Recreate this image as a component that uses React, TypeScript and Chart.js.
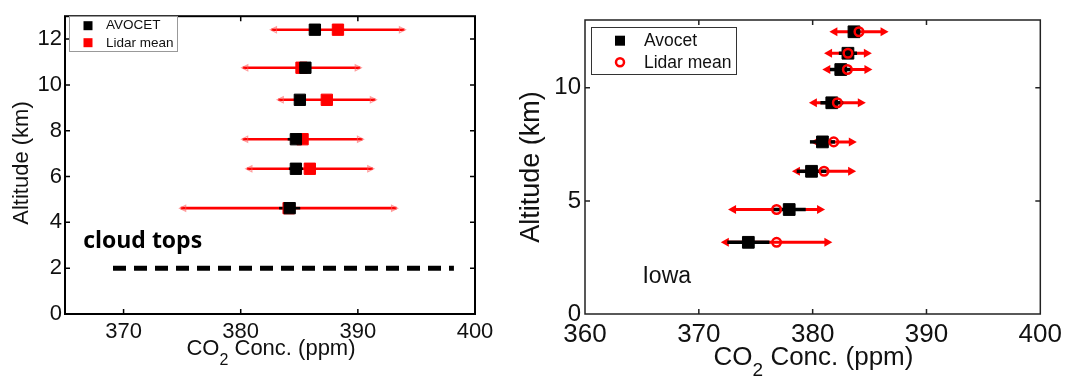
import React, { useEffect, useRef } from 'react';
import { Chart, registerables } from 'chart.js';

Chart.register(...registerables);

// ---------- Left panel data ----------
const LEFT_ALT = [12.41, 10.75, 9.35, 7.63, 6.34, 4.62];
const LEFT_AVOCET = [386.33, 385.52, 385.05, 384.71, 384.71, 384.18];
const LEFT_AVOCET_ERR = [0.4, 0.4, 0.5, 0.7, 0.6, 0.9];
const LEFT_LIDAR = [388.3, 385.19, 387.35, 385.28, 385.9, 384.09];
const LEFT_LIDAR_ERR = [5.76, 5.1, 4.23, 5.2, 5.46, 9.3];
const LEFT_X_TICKS = [370, 380, 390, 400];
const LEFT_Y_TICKS = [0, 2, 4, 6, 8, 10, 12];
const CLOUD_TOP_X = [369.1, 398.2];
const CLOUD_TOP_ALT = [2, 2];

// ---------- Right panel data ----------
const RIGHT_ALT = [12.48, 11.53, 10.81, 9.34, 7.61, 6.31, 4.62, 3.17];
const RIGHT_AVOCET = [383.63, 383.1, 382.47, 381.68, 380.86, 379.9, 377.94, 374.35];
const RIGHT_AVOCET_ERR = [0.5, 0.8, 0.95, 1.0, 1.1, 1.3, 1.45, 1.85];
const RIGHT_LIDAR = [384.07, 383.1, 383.05, 382.17, 381.85, 381.0, 376.83, 376.83];
const RIGHT_LIDAR_ERR = [2.6, 2.1, 2.2, 2.5, 2.03, 2.82, 4.26, 4.9];
const RIGHT_X_TICKS = [360, 370, 380, 390, 400];
const RIGHT_Y_TICKS = [0, 5, 10];

const SANS = '"Liberation Sans", Arial, Helvetica, sans-serif';

type PanelCfg = {
  name: string;
  alt: number[];
  avocet: number[];
  avocetErr: number[];
  lidar: number[];
  lidarErr: number[];
  redWidth: number;
  blackWidth: number;
  arrow: 'open' | 'filled';
  frameWidth: number;
  frameColor: string;
  tickLen: number;
  yTitle: { x: number; y: number; size: number };
  xTitle: { cx: number; base: number; size: number; subSize: number; subBase: number };
  note: { text: string; x: number; y: number; font: string; color: string };
  legend: {
    x: number; y: number; w: number; h: number; border: string;
    mx: number; my1: number; my2: number; tx: number; font: string;
    second: 'rect' | 'circle'; mSize: number;
  };
  labels: [string, string];
};

function makePlugin(cfg: PanelCfg) {
  return {
    id: 'panel_' + cfg.name,
    beforeDatasetsDraw(chart: any) {
      const ctx = chart.ctx as CanvasRenderingContext2D;
      const xs = chart.scales.x;
      const ys = chart.scales.y;
      ctx.save();
      // red lidar error bars
      cfg.alt.forEach((a, i) => {
        const y = ys.getPixelForValue(a);
        const x1 = xs.getPixelForValue(cfg.lidar[i] - cfg.lidarErr[i]);
        const x2 = xs.getPixelForValue(cfg.lidar[i] + cfg.lidarErr[i]);
        ctx.strokeStyle = '#ff0000';
        ctx.lineWidth = cfg.redWidth;
        ctx.lineCap = 'butt';
        ctx.beginPath();
        if (cfg.arrow === 'filled') {
          ctx.moveTo(x1 + 6, y);
          ctx.lineTo(x2 - 6, y);
        } else {
          ctx.moveTo(x1 + 1, y);
          ctx.lineTo(x2 - 1, y);
        }
        ctx.stroke();
        if (cfg.arrow === 'filled') {
          ctx.fillStyle = '#ff0000';
          const L = 8, H = 4.5;
          ctx.beginPath();
          ctx.moveTo(x1, y); ctx.lineTo(x1 + L, y - H); ctx.lineTo(x1 + L, y + H); ctx.closePath();
          ctx.fill();
          ctx.beginPath();
          ctx.moveTo(x2, y); ctx.lineTo(x2 - L, y - H); ctx.lineTo(x2 - L, y + H); ctx.closePath();
          ctx.fill();
        } else {
          ctx.strokeStyle = 'rgba(255,90,90,0.6)';
          ctx.lineWidth = 1.2;
          const L = 6, H = 3;
          ctx.beginPath();
          ctx.moveTo(x1 + L, y - H); ctx.lineTo(x1, y); ctx.lineTo(x1 + L, y + H); ctx.closePath();
          ctx.stroke();
          ctx.beginPath();
          ctx.moveTo(x2 - L, y - H); ctx.lineTo(x2, y); ctx.lineTo(x2 - L, y + H); ctx.closePath();
          ctx.stroke();
        }
      });
      // black avocet error bars
      cfg.alt.forEach((a, i) => {
        const y = ys.getPixelForValue(a);
        const x1 = xs.getPixelForValue(cfg.avocet[i] - cfg.avocetErr[i]);
        const x2 = xs.getPixelForValue(cfg.avocet[i] + cfg.avocetErr[i]);
        ctx.strokeStyle = '#000';
        ctx.lineWidth = cfg.blackWidth;
        ctx.beginPath();
        ctx.moveTo(x1, y);
        ctx.lineTo(x2, y);
        ctx.stroke();
      });
      ctx.restore();
    },
    afterDraw(chart: any) {
      const ctx = chart.ctx as CanvasRenderingContext2D;
      const xs = chart.scales.x;
      const ys = chart.scales.y;
      const ca = chart.chartArea;
      ctx.save();
      // frame
      ctx.strokeStyle = cfg.frameColor;
      ctx.lineWidth = cfg.frameWidth;
      ctx.strokeRect(ca.left, ca.top, ca.right - ca.left, ca.bottom - ca.top);
      // inward ticks on all four sides
      ctx.lineWidth = 1.5;
      xs.ticks.forEach((t: any) => {
        const x = xs.getPixelForValue(t.value);
        if (x <= ca.left + 1 || x >= ca.right - 1) return;
        ctx.beginPath();
        ctx.moveTo(x, ca.bottom); ctx.lineTo(x, ca.bottom - cfg.tickLen);
        ctx.moveTo(x, ca.top); ctx.lineTo(x, ca.top + cfg.tickLen);
        ctx.stroke();
      });
      ys.ticks.forEach((t: any) => {
        const y = ys.getPixelForValue(t.value);
        if (y <= ca.top + 1 || y >= ca.bottom - 1) return;
        ctx.beginPath();
        ctx.moveTo(ca.left, y); ctx.lineTo(ca.left + cfg.tickLen, y);
        ctx.moveTo(ca.right, y); ctx.lineTo(ca.right - cfg.tickLen, y);
        ctx.stroke();
      });
      // y title
      ctx.fillStyle = '#111';
      ctx.translate(cfg.yTitle.x, cfg.yTitle.y);
      ctx.rotate(-Math.PI / 2);
      ctx.font = `${cfg.yTitle.size}px ${SANS}`;
      ctx.textAlign = 'center';
      ctx.textBaseline = 'middle';
      ctx.fillText('Altitude (km)', 0, 0);
      ctx.setTransform(1, 0, 0, 1, 0, 0);
      // x title with subscript
      const xt = cfg.xTitle;
      const mainFont = `${xt.size}px ${SANS}`;
      const subFont = `${xt.subSize}px ${SANS}`;
      ctx.textAlign = 'left';
      ctx.textBaseline = 'alphabetic';
      ctx.font = mainFont;
      const w1 = ctx.measureText('CO').width;
      const w3 = ctx.measureText(' Conc. (ppm)').width;
      ctx.font = subFont;
      const w2 = ctx.measureText('2').width;
      const sx = xt.cx - (w1 + w2 + w3) / 2;
      ctx.font = mainFont;
      ctx.fillText('CO', sx, xt.base);
      ctx.font = subFont;
      ctx.fillText('2', sx + w1, xt.subBase);
      ctx.font = mainFont;
      ctx.fillText(' Conc. (ppm)', sx + w1 + w2, xt.base);
      // annotation text
      ctx.font = cfg.note.font;
      ctx.fillStyle = cfg.note.color;
      ctx.fillText(cfg.note.text, xs.getPixelForValue(cfg.note.x), ys.getPixelForValue(cfg.note.y));
      // legend
      const lg = cfg.legend;
      ctx.fillStyle = '#fff';
      ctx.fillRect(lg.x, lg.y, lg.w, lg.h);
      ctx.strokeStyle = lg.border;
      ctx.lineWidth = 1;
      ctx.strokeRect(lg.x + 0.5, lg.y + 0.5, lg.w, lg.h);
      const s = lg.mSize;
      ctx.fillStyle = '#000';
      ctx.fillRect(lg.mx - s / 2, lg.my1 - s / 2, s, s);
      if (lg.second === 'rect') {
        ctx.fillStyle = '#ff0000';
        ctx.fillRect(lg.mx - s / 2, lg.my2 - s / 2, s, s);
      } else {
        ctx.strokeStyle = '#ff0000';
        ctx.lineWidth = 2.5;
        ctx.beginPath();
        ctx.arc(lg.mx, lg.my2, 4, 0, Math.PI * 2);
        ctx.stroke();
      }
      ctx.fillStyle = '#111';
      ctx.font = lg.font;
      ctx.textBaseline = 'middle';
      ctx.fillText(cfg.labels[0], lg.tx, lg.my1);
      ctx.fillText(cfg.labels[1], lg.tx, lg.my2 + 0.5);
      ctx.restore();
    },
  };
}

function axisOpts(min: number, max: number, ticks: number[], size: number, pad: number, fit: (s: any) => void) {
  return {
    type: 'linear' as const,
    min,
    max,
    grid: { display: false, drawTicks: false },
    border: { display: false },
    afterBuildTicks: (scale: any) => {
      scale.ticks = ticks.map((v) => ({ value: v }));
    },
    afterFit: fit,
    ticks: {
      autoSkip: false,
      maxRotation: 0,
      minRotation: 0,
      padding: pad,
      color: '#111',
      font: { family: SANS, size },
    },
  };
}

function buildLeft(canvas: HTMLCanvasElement) {
  const cfg: PanelCfg = {
    name: 'left',
    alt: LEFT_ALT,
    avocet: LEFT_AVOCET,
    avocetErr: LEFT_AVOCET_ERR,
    lidar: LEFT_LIDAR,
    lidarErr: LEFT_LIDAR_ERR,
    redWidth: 2.6,
    blackWidth: 2.6,
    arrow: 'open',
    frameWidth: 2,
    frameColor: '#000',
    tickLen: 5,
    yTitle: { x: 22, y: 163, size: 22 },
    xTitle: { cx: 271, base: 355, size: 22, subSize: 16, subBase: 365 },
    note: { text: 'cloud tops', x: 366.55, y: 2.88, font: `bold 23px "Open Sans", "Noto Sans", sans-serif`, color: '#000' },
    legend: { x: 69, y: 16, w: 108, h: 35, border: '#999', mx: 88, my1: 25.7, my2: 42.7, tx: 106, font: `13.5px ${SANS}`, second: 'rect', mSize: 9 },
    labels: ['AVOCET', 'Lidar mean'],
  };
  return new Chart(canvas, {
    type: 'scatter',
    data: {
      datasets: [
        {
          label: 'AVOCET',
          data: LEFT_ALT.map((a, i) => ({ x: LEFT_AVOCET[i], y: a })),
          pointStyle: 'rect',
          pointRadius: 8,
          backgroundColor: '#000',
          borderColor: '#000',
          borderWidth: 1,
          order: 1,
        },
        {
          label: 'Lidar mean',
          data: LEFT_ALT.map((a, i) => ({ x: LEFT_LIDAR[i], y: a })),
          pointStyle: 'rect',
          pointRadius: 8,
          backgroundColor: '#ff0000',
          borderColor: '#ff0000',
          borderWidth: 1,
          order: 2,
        },
        {
          label: 'cloud tops',
          data: CLOUD_TOP_X.map((x, i) => ({ x, y: CLOUD_TOP_ALT[i] })),
          showLine: true,
          pointRadius: 0,
          borderColor: '#000',
          borderWidth: 5,
          borderDash: [13, 8],
          order: 3,
        } as any,
      ],
    },
    options: {
      responsive: false,
      animation: false,
      devicePixelRatio: 1,
      events: [],
      layout: { padding: { top: 12, right: 25, left: 0, bottom: 0 } },
      plugins: { legend: { display: false }, tooltip: { enabled: false } },
      scales: {
        x: axisOpts(365, 400, LEFT_X_TICKS, 22, 5, (s: any) => { s.height = 62; }),
        y: axisOpts(0, 13, LEFT_Y_TICKS, 22, 3, (s: any) => { s.width = 65; }),
      },
    },
    plugins: [makePlugin(cfg)],
  } as any);
}

function buildRight(canvas: HTMLCanvasElement) {
  const cfg: PanelCfg = {
    name: 'right',
    alt: RIGHT_ALT,
    avocet: RIGHT_AVOCET,
    avocetErr: RIGHT_AVOCET_ERR,
    lidar: RIGHT_LIDAR,
    lidarErr: RIGHT_LIDAR_ERR,
    redWidth: 3,
    blackWidth: 3.5,
    arrow: 'filled',
    frameWidth: 1.5,
    frameColor: '#222',
    tickLen: 5,
    yTitle: { x: 31.6, y: 167, size: 27 },
    xTitle: { cx: 313.5, base: 365, size: 26, subSize: 19, subBase: 376 },
    note: { text: 'Iowa', x: 365.05, y: 1.36, font: `23px ${SANS}`, color: '#111' },
    legend: { x: 91, y: 27, w: 145, h: 47, border: '#333', mx: 120, my1: 40.7, my2: 62.3, tx: 144, font: `17.5px ${SANS}`, second: 'circle', mSize: 10 },
    labels: ['Avocet', 'Lidar mean'],
  };
  return new Chart(canvas, {
    type: 'scatter',
    data: {
      datasets: [
        {
          label: 'Avocet',
          data: RIGHT_ALT.map((a, i) => ({ x: RIGHT_AVOCET[i], y: a })),
          pointStyle: 'rect',
          pointRadius: 8.3,
          backgroundColor: '#000',
          borderColor: '#000',
          borderWidth: 1,
          order: 2,
        },
        {
          label: 'Lidar mean',
          data: RIGHT_ALT.map((a, i) => ({ x: RIGHT_LIDAR[i], y: a })),
          pointStyle: 'circle',
          pointRadius: 4.3,
          backgroundColor: 'rgba(0,0,0,0)',
          borderColor: '#ff0000',
          borderWidth: 2.5,
          order: 1,
        },
      ],
    },
    options: {
      responsive: false,
      animation: false,
      devicePixelRatio: 1,
      events: [],
      layout: { padding: { top: 20, right: 25, left: 0, bottom: 0 } },
      plugins: { legend: { display: false }, tooltip: { enabled: false } },
      scales: {
        x: axisOpts(360, 400, RIGHT_X_TICKS, 26, 5, (s: any) => { s.height = 62; }),
        y: axisOpts(0, 13, RIGHT_Y_TICKS, 24, 4, (s: any) => { s.width = 85; }),
      },
    },
    plugins: [makePlugin(cfg)],
  } as any);
}

export default function App() {
  const leftRef = useRef<HTMLCanvasElement>(null);
  const rightRef = useRef<HTMLCanvasElement>(null);

  useEffect(() => {
    if (!leftRef.current || !rightRef.current) return;
    const a = buildLeft(leftRef.current);
    const b = buildRight(rightRef.current);
    return () => {
      a.destroy();
      b.destroy();
    };
  }, []);

  return (
    <div style={{ position: 'absolute', left: 0, top: 0, width: 1067, height: 376, background: '#fff', overflow: 'hidden' }}>
      <canvas ref={leftRef} width={500} height={376} style={{ position: 'absolute', left: 0, top: 0, width: 500, height: 376 }} />
      <canvas ref={rightRef} width={567} height={376} style={{ position: 'absolute', left: 500, top: 0, width: 567, height: 376 }} />
    </div>
  );
}
